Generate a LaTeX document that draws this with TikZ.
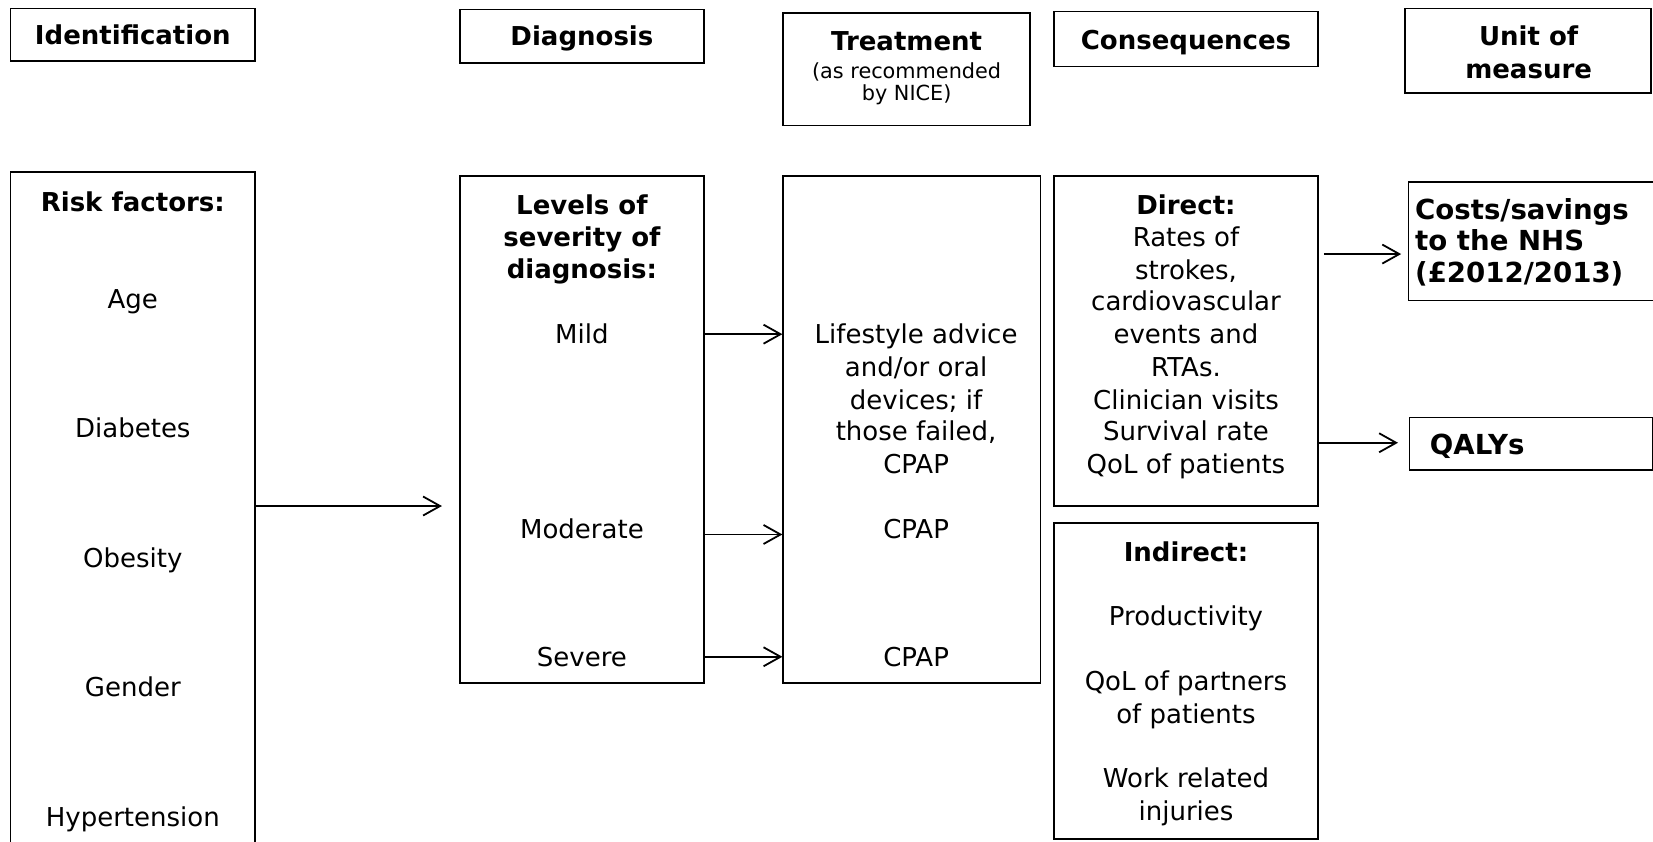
\documentclass[tikz,border=0pt]{standalone}
\usepackage{fontspec}
\setmainfont{DejaVu Sans}
\usetikzlibrary{arrows.meta,fit}
\begin{document}
\begin{tikzpicture}[x=0.5271pt,y=-0.5271pt,
  box/.style={draw, line width=0.9pt, inner sep=0pt},
  txt/.style={font=\fontsize{13}{16}\selectfont, anchor=base, inner sep=0pt},
  btxt/.style={font=\fontsize{13}{16}\selectfont\bfseries, anchor=base, inner sep=0pt},
  lbtxt/.style={font=\fontsize{13.8}{16}\selectfont\bfseries, anchor=base west, inner sep=0pt},
  stxt/.style={font=\fontsize{10.4}{12}\selectfont, anchor=base, inner sep=0pt},
  arr/.style={line width=0.9pt, -{Straight Barb[length=8.5pt,width=9.5pt,line width=0.9pt]}}]
\useasboundingbox (0,0) rectangle (1568,798);
\clip (0,0) rectangle (1568,798);

% header boxes
\node[box, fit={(10,8) (242,58)}] (identH) {};
\node[box, fit={(436,9) (668,60)}] (diagH) {};
\node[box, fit={(743,12) (977,119)}] (treatH) {};
\node[box, fit={(1000,11) (1250,63)}] (consH) {};
\node[box, fit={(1333,8) (1566,88)}] (unitH) {};

% main boxes
\node[box, fit={(10,163) (242,830)}] (risk) {};
\node[box, fit={(436,167) (668,648)}] (levels) {};
\node[box, fit={(743,167) (987,648)}] (treat) {};
\node[box, fit={(1000,167) (1250,480)}] (direct) {};
\node[box, fit={(1000,496) (1250,796)}] (indirect) {};
\node[box, fit={(1336,173) (1570,285)}] (costs) {};
\node[box, fit={(1337,396) (1568,446)}] (qalys) {};

% header texts
\node[btxt] (tIdent) at (126,42) {Identification};
\node[btxt] (tDiag) at (552,43) {Diagnosis};
\node[btxt] (tTreat) at (860,48) {Treatment};
\node[stxt] (tTreat2) at (860,74) {(as recommended};
\node[stxt] (tTreat3) at (860,95) {by NICE)};
\node[btxt] (tCons) at (1125,47) {Consequences};
\node[btxt] (tUnit1) at (1450,43) {Unit of};
\node[btxt] (tUnit2) at (1450,74) {measure};

% risk factors
\node[btxt] (tRisk) at (126,201) {Risk factors:};
\node[txt] (tAge) at (126,293) {Age};
\node[txt] (tDiab) at (126,415) {Diabetes};
\node[txt] (tObes) at (126,538) {Obesity};
\node[txt] (tGend) at (126,661) {Gender};
\node[txt] (tHyp) at (126,784) {Hypertension};

% levels
\node[btxt] (tLev1) at (552,203) {Levels of};
\node[btxt] (tLev2) at (552,234) {severity of};
\node[btxt] (tLev3) at (552,264) {diagnosis:};
\node[txt] (tMild) at (552,326) {Mild};
\node[txt] (tMod) at (552,511) {Moderate};
\node[txt] (tSev) at (552,632) {Severe};

% treatment
\node[txt] (tTr1) at (869,326) {Lifestyle advice};
\node[txt] (tTr2) at (869,357) {and/or oral};
\node[txt] (tTr3) at (869,388) {devices; if};
\node[txt] (tTr4) at (869,418) {those failed,};
\node[txt] (tTr5) at (869,449) {CPAP};
\node[txt] (tTr6) at (869,511) {CPAP};
\node[txt] (tTr7) at (869,632) {CPAP};

% direct
\node[btxt] (tDir) at (1125,203) {Direct:};
\node[txt] (tDir1) at (1125,234) {Rates of};
\node[txt] (tDir2) at (1125,265) {strokes,};
\node[txt] (tDir3) at (1125,295) {cardiovascular};
\node[txt] (tDir4) at (1125,326) {events and};
\node[txt] (tDir5) at (1125,357) {RTAs.};
\node[txt] (tDir6) at (1125,388) {Clinician visits};
\node[txt] (tDir7) at (1125,418) {Survival rate};
\node[txt] (tDir8) at (1125,449) {QoL of patients};

% indirect
\node[btxt] (tInd) at (1125,533) {Indirect:};
\node[txt] (tInd1) at (1125,593) {Productivity};
\node[txt] (tInd2) at (1125,655) {QoL of partners};
\node[txt] (tInd3) at (1125,686) {of patients};
\node[txt] (tInd4) at (1125,747) {Work related};
\node[txt] (tInd5) at (1125,778) {injuries};

% units
\node[lbtxt] (tCost1) at (1342,208) {Costs/savings};
\node[lbtxt] (tCost2) at (1342,238) {to the NHS};
\node[lbtxt] (tCost3) at (1342,268) {(£2012/2013)};
\node[lbtxt] (tQaly) at (1356,431) {QALYs};

% arrows
\draw[arr, shorten >=8.4pt] (risk.east |- 0,480) -- (levels.west |- 0,480);
\draw[arr] (levels.east |- 0,317) -- (treat.west |- 0,317);
\draw[arr] (levels.east |- 0,507) -- (treat.west |- 0,507);
\draw[arr] (levels.east |- 0,623) -- (treat.west |- 0,623);
\draw[arr, shorten <=2.6pt, shorten >=3.2pt] (direct.east |- 0,241) -- (costs.west |- 0,241);
\draw[arr, shorten >=5.3pt] (direct.east |- 0,420) -- (qalys.west |- 0,420);
\end{tikzpicture}
\end{document}
